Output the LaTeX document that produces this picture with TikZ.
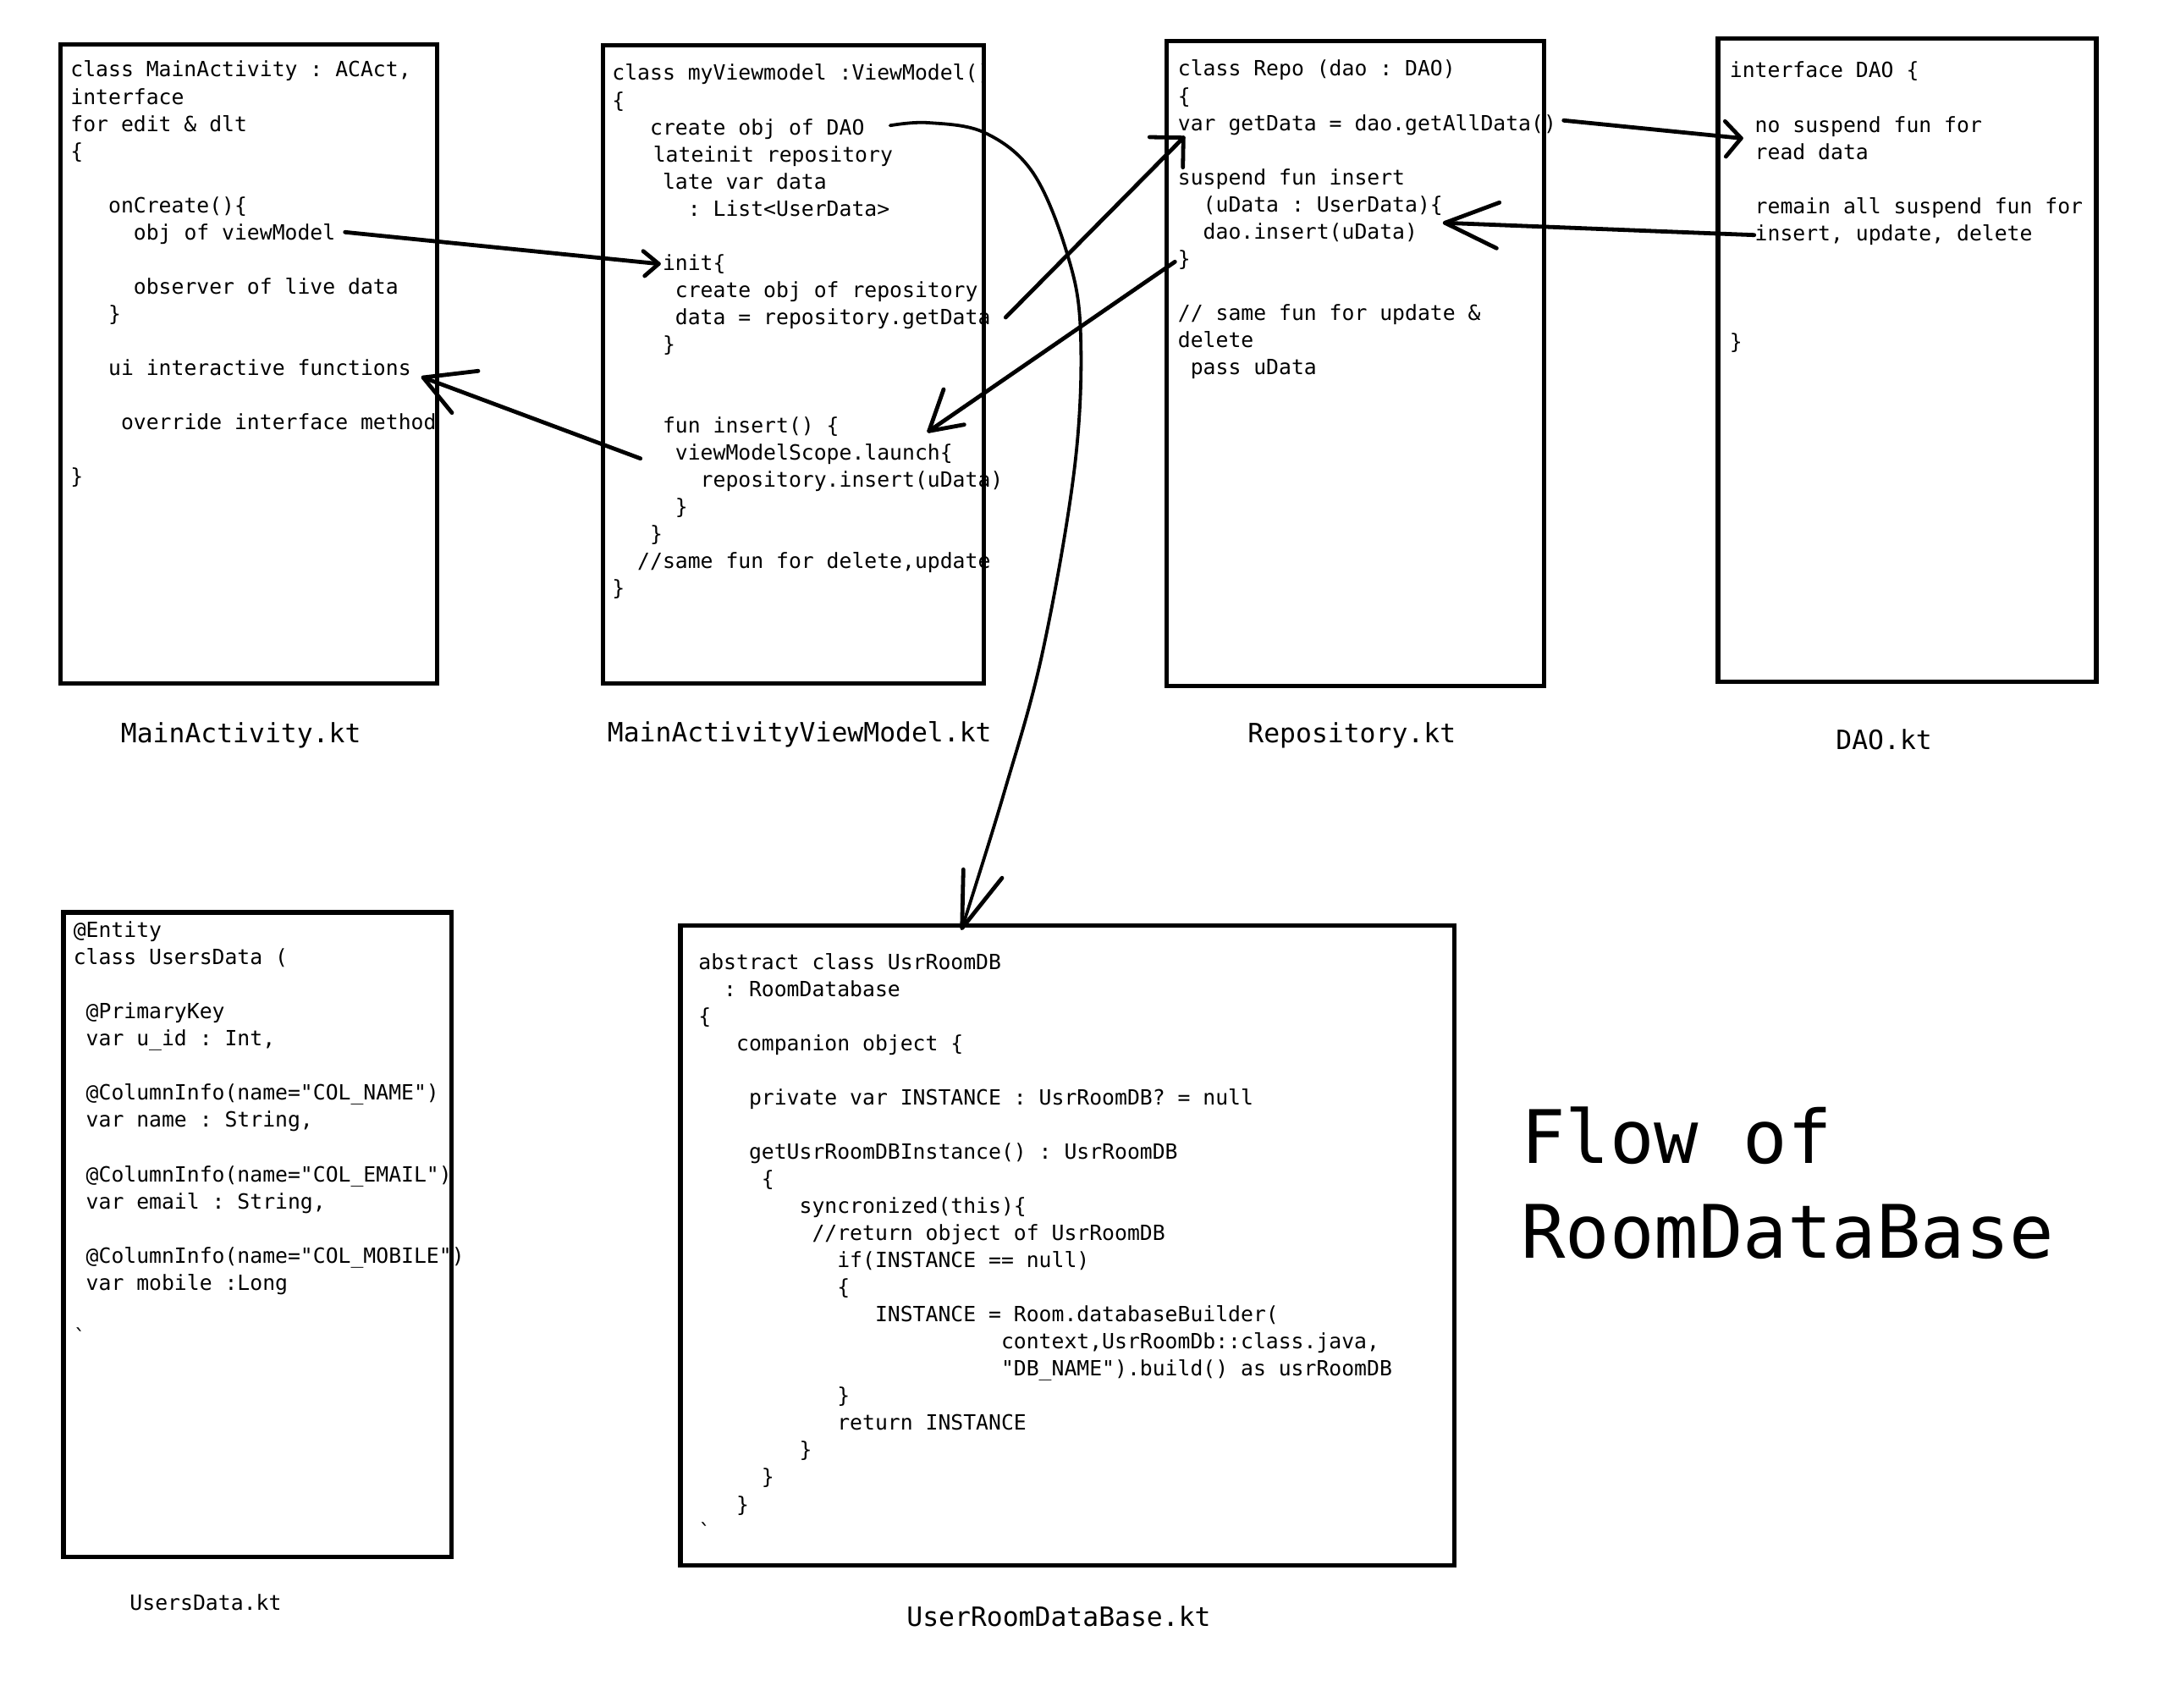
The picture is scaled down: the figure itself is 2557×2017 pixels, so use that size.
\documentclass[tikz,border=0pt]{standalone}
\usepackage{fontspec}
\setmonofont{DejaVu Sans Mono}
\newcommand\codesize{\ttfamily\fontsize{12.375pt}{14pt}\selectfont}
\newcommand\labsize{\ttfamily\fontsize{15.7pt}{18pt}\selectfont}
\newcommand\smlabsize{\ttfamily\fontsize{12.4pt}{14pt}\selectfont}
\newcommand\titlesize{\ttfamily\fontsize{43.6pt}{50pt}\selectfont}
\newcommand\myX{0}
\newcommand\myY{0}
\newcommand\myP{32.05}
\newcommand\cl[4]{\node[codetxt] (#1) at ({\myX+#3*14.9},{\myY+(#2-1)*\myP}) {#4};}
\tikzset{
  codetxt/.style={font=\codesize, inner sep=0pt, anchor=base west},
  labtxt/.style={font=\labsize, inner sep=0pt, anchor=base west},
  filebox/.style={draw=black, line width=2.6pt},
  conn/.style={draw=black, line width=2.4pt, line cap=round, line join=round},
  thinconn/.style={draw=black, line width=1.9pt, line cap=round, line join=round},
}
\begin{document}
\begin{tikzpicture}[x=0.5pt,y=-0.5pt]
\useasboundingbox (0,0) rectangle (2557,2017);
\fill[white] (0,0) rectangle (2557,2017);

% ---------- boxes ----------
\draw[filebox] (71.8,52.2) rectangle (516.7,807.2);
\draw[filebox] (712.5,53.8) rectangle (1162.7,807.2);
\draw[filebox] (1378.3,48.9) rectangle (1824.3,810.5);
\draw[filebox] (2030,45.7) rectangle (2477,805.6);
\draw[filebox] (75,1077.9) rectangle (533.2,1839.4);
\draw[filebox] (803.9,1093.3) rectangle (1718.8,1849.2);

% ---------- MainActivity ----------
\renewcommand\myX{83}\renewcommand\myY{91}
\cl{ma1}{1}{0}{class MainActivity : ACAct,}
\cl{ma2}{2}{0}{interface}
\cl{ma3}{3}{0}{for edit \& dlt}
\cl{ma4}{4}{0}{\{}
\cl{ma6}{6}{3}{onCreate()\{}
\cl{ma7}{7}{5}{obj of viewModel}
\cl{ma9}{9}{5}{observer of live data}
\cl{ma10}{10}{3}{\}}
\cl{ma12}{12}{3}{ui interactive functions}
\cl{ma14}{14}{4}{override interface method}
\cl{ma16}{16}{0}{\}}

% ---------- ViewModel ----------
\renewcommand\myX{723}\renewcommand\myY{95}
\cl{vm1}{1}{0}{class myViewmodel :ViewModel()}
\cl{vm2}{2}{0}{\{}
\cl{vm3}{3}{3}{create obj of DAO}
\cl{vm4}{4}{3.25}{lateinit repository}
\cl{vm5}{5}{4}{late var data}
\cl{vm6}{6}{6}{: List<UserData>}
\cl{vm8}{8}{4}{init\{}
\cl{vm9}{9}{5}{create obj of repository}
\cl{vm10}{10}{5}{data = repository.getData}
\cl{vm11}{11}{4}{\}}
\cl{vm14}{14}{4}{fun insert() \{}
\cl{vm15}{15}{5}{viewModelScope.launch\{}
\cl{vm16}{16}{7}{repository.insert(uData)}
\cl{vm17}{17}{5}{\}}
\cl{vm18}{18}{3}{\}}
\cl{vm19}{19}{2}{//same fun for delete,update}
\cl{vm20}{20}{0}{\}}

% ---------- Repository ----------
\renewcommand\myX{1391.5}\renewcommand\myY{90}
\cl{re1}{1}{0}{class Repo (dao : DAO)}
\cl{re2}{2}{0}{\{}
\cl{re3}{3}{0}{var getData = dao.getAllData()}
\cl{re5}{5}{0}{suspend fun insert}
\cl{re6}{6}{2}{(uData : UserData)\{}
\cl{re7}{7}{2}{dao.insert(uData)}
\cl{re8}{8}{0}{\}}
\cl{re10}{10}{0}{// same fun for update \&}
\cl{re11}{11}{0}{delete}
\cl{re12}{12}{1}{pass uData}

% ---------- DAO ----------
\renewcommand\myX{2043.5}\renewcommand\myY{92}
\cl{da1}{1}{0}{interface DAO \{}
\cl{da3}{3}{2}{no suspend fun for}
\cl{da4}{4}{2}{read data}
\cl{da6}{6}{2}{remain all suspend fun for}
\cl{da7}{7}{2}{insert, update, delete}
\cl{da11}{11}{0}{\}}

% ---------- UsersData ----------
\renewcommand\myX{86.4}\renewcommand\myY{1107.6}
\cl{ud1}{1}{0}{@Entity}
\cl{ud2}{2}{0}{class UsersData (}
\cl{ud4}{4}{1}{@PrimaryKey}
\cl{ud5}{5}{1}{var u\_id : Int,}
\cl{ud7}{7}{1}{@ColumnInfo(name="COL\_NAME")}
\cl{ud8}{8}{1}{var name : String,}
\cl{ud10}{10}{1}{@ColumnInfo(name="COL\_EMAIL")}
\cl{ud11}{11}{1}{var email : String,}
\cl{ud13}{13}{1}{@ColumnInfo(name="COL\_MOBILE")}
\cl{ud14}{14}{1}{var mobile :Long}
\cl{ud16}{16}{0}{`}

% ---------- UserRoomDataBase ----------
\renewcommand\myX{825}\renewcommand\myY{1145}
\cl{db1}{1}{0}{abstract class UsrRoomDB}
\cl{db2}{2}{2}{: RoomDatabase}
\cl{db3}{3}{0}{\{}
\cl{db4}{4}{3}{companion object \{}
\cl{db6}{6}{4}{private var INSTANCE : UsrRoomDB? = null}
\cl{db8}{8}{4}{getUsrRoomDBInstance() : UsrRoomDB}
\cl{db9}{9}{5}{\{}
\cl{db10}{10}{8}{syncronized(this)\{}
\cl{db11}{11}{9}{//return object of UsrRoomDB}
\cl{db12}{12}{11}{if(INSTANCE == null)}
\cl{db13}{13}{11}{\{}
\cl{db14}{14}{14}{INSTANCE = Room.databaseBuilder(}
\cl{db15}{15}{24}{context,UsrRoomDb::class.java,}
\cl{db16}{16}{24}{"DB\_NAME").build() as usrRoomDB}
\cl{db17}{17}{11}{\}}
\cl{db18}{18}{11}{return INSTANCE}
\cl{db19}{19}{8}{\}}
\cl{db20}{20}{5}{\}}
\cl{db21}{21}{3}{\}}
\cl{db22}{22}{0}{`}

% ---------- file labels ----------
\node[labtxt] (lab1) at (142.5,877) {MainActivity.kt};
\node[labtxt] (lab2) at (717.5,876) {MainActivityViewModel.kt};
\node[labtxt] (lab3) at (1474,877) {Repository.kt};
\node[labtxt] (lab4) at (2169,885) {DAO.kt};
\node[font=\smlabsize, inner sep=0pt, anchor=base west] (lab5) at (153,1902) {UsersData.kt};
\node[labtxt] (lab6) at (1071,1921) {UserRoomDataBase.kt};

% ---------- title ----------
\node[font=\titlesize, inner sep=0pt, anchor=base west] (title1) at (1797,1374) {Flow of};
\node[font=\titlesize, inner sep=0pt, anchor=base west] (title2) at (1797,1486) {RoomDataBase};

% ---------- connector points ----------
\coordinate (aTail) at (407.7,274.3);
\coordinate (aTip) at (778.3,311.7);
\coordinate (aW1) at (760,296.7);
\coordinate (aW2) at (761.7,326);

\coordinate (bTail) at (756.7,541.7);
\coordinate (bTip) at (500,446);
\coordinate (bW1) at (565,438.3);
\coordinate (bW2) at (534,487.7);

\coordinate (cTail) at (1188.3,375);
\coordinate (cTip) at (1398.3,162.7);
\coordinate (cW1) at (1358.3,162);
\coordinate (cW2) at (1397.7,197.7);

\coordinate (eTail) at (1388.3,309.3);
\coordinate (eTip) at (1097.7,509.3);
\coordinate (eW1) at (1115,460);
\coordinate (eW2) at (1139.3,501.7);

\coordinate (fTail) at (1847.7,142.3);
\coordinate (fTip) at (2057.3,163.3);
\coordinate (fW1) at (2038.3,143.3);
\coordinate (fW2) at (2039.3,185);

\coordinate (gTail) at (2072.7,277.7);
\coordinate (gTip) at (1707.3,263.3);
\coordinate (gW1) at (1771.7,239.3);
\coordinate (gW2) at (1768.3,293.3);

\coordinate (d0) at (1051.7,148.3);
\coordinate (d1) at (1096.7,145);
\coordinate (d2) at (1163.3,156.7);
\coordinate (d3) at (1220,203.3);
\coordinate (d4) at (1260,296.7);
\coordinate (d5) at (1276.7,390);
\coordinate (d6) at (1270,550);
\coordinate (d7) at (1232,770);
\coordinate (d8) at (1186,938);
\coordinate (dTip) at (1136.7,1096.7);
\coordinate (dW1) at (1138.3,1027.3);
\coordinate (dW2) at (1184,1037.3);

% ---------- connectors ----------
\draw[conn] (aTail) -- (aTip);
\draw[conn] (aW1) -- (aTip) -- (aW2);

\draw[conn] (bTail) -- (bTip);
\draw[conn] (bW1) -- (bTip) -- (bW2);

\draw[conn] (cTail) -- (cTip);
\draw[conn] (cW1) -- (cTip) -- (cW2);

\draw[conn] (eTail) -- (eTip);
\draw[conn] (eW1) -- (eTip) -- (eW2);

\draw[conn] (fTail) -- (fTip);
\draw[conn] (fW1) -- (fTip) -- (fW2);

\draw[conn] (gTail) -- (gTip);
\draw[conn] (gW1) -- (gTip) -- (gW2);

\draw[thinconn] plot[smooth, tension=0.6] coordinates {(d0) (d1) (d2) (d3) (d4) (d5) (d6) (d7) (d8) (dTip)};
\draw[conn] (dW1) -- (dTip) -- (dW2);
\end{tikzpicture}
\end{document}
